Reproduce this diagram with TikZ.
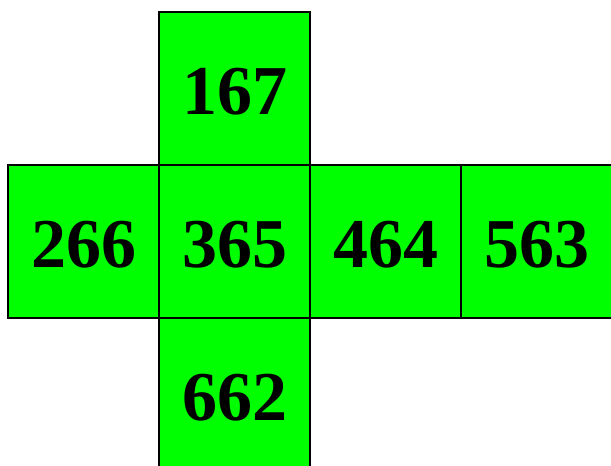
\documentclass[tikz,border=0pt]{standalone}
\usepackage{fontspec}
\setmainfont{Liberation Serif}
\usepackage{tikz}
\definecolor{facegreen}{HTML}{00FF00}

\begin{document}
\begin{tikzpicture}[
  x=1pt, y=-1pt,
  face/.style={draw=black, fill=facegreen, line width=1.3pt, minimum width=151pt, minimum height=153pt, inner sep=0pt, text height=51pt, text depth=0pt, font=\bfseries\fontsize{70}{70}\selectfont}
]
\useasboundingbox (0,0) rectangle (611,466);
\clip (0,0) rectangle (611,466);
\node[face] (top) at (234.5,88.5) {167};
\node[face] (left) at (83.5,241.5) {266};
\node[face] (front) at (234.5,241.5) {365};
\node[face] (right) at (385.5,241.5) {464};
\node[face] (back) at (536.5,241.5) {563};
\node[face] (bottom) at (234.5,394.5) {662};
\end{tikzpicture}
\end{document}
